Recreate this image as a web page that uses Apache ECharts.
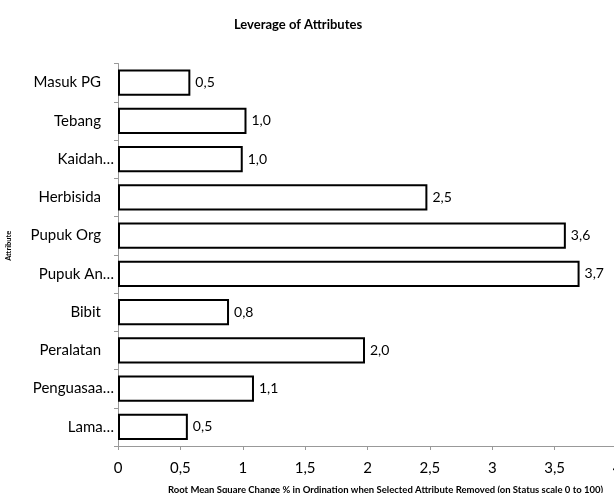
<!DOCTYPE html>
<html>
<head>
<meta charset="utf-8">
<script src="https://cdn.jsdelivr.net/npm/echarts@6/dist/echarts.min.js"></script>
<style>html,body{margin:0;padding:0;background:#fff}#c{width:614px;height:493px}</style>
</head>
<body>
<div id="c"></div>
<script>
// top-to-bottom order
var categories = ["Masuk PG", "Tebang", "Kaidah…", "Herbisida", "Pupuk Org", "Pupuk An…", "Bibit", "Peralatan", "Penguasaa…", "Lama…"];
var values = [0.58, 1.03, 1.0, 2.48, 3.59, 3.70, 0.89, 1.98, 1.09, 0.56];
var valueLabels = ["0,5", "1,0", "1,0", "2,5", "3,6", "3,7", "0,8", "2,0", "1,1", "0,5"];
var xTicks = [0, 0.5, 1, 1.5, 2, 2.5, 3, 3.5, 4];

var FONT = 'Lato';
var chart = echarts.init(document.getElementById('c'), null, {renderer: 'canvas'});
chart.setOption({
  animation: false,
  backgroundColor: '#fff',
  title: {
    text: 'Leverage of Attributes',
    left: 293, top: 13, textAlign: 'center',
    textStyle: {fontFamily: FONT, fontWeight: 'bold', fontSize: 13, color: '#000'}
  },
  grid: {left: 118, top: 63.5, bottom: 47, width: 499, containLabel: false, outerBoundsMode: 'none'},
  xAxis: {
    type: 'value', min: 0, max: 4, interval: 0.5,
    name: 'Root Mean Square Change % in Ordination when Selected Attribute Removed (on Status scale 0 to 100)',
    nameLocation: 'middle', nameGap: 39,
    nameTextStyle: {fontFamily: FONT, fontWeight: 'bold', fontSize: 9.5, color: '#000', padding: [0, 0, 0, 36]},
    axisLine: {show: true, lineStyle: {color: '#999', width: 1}},
    axisTick: {show: true, length: 4, lineStyle: {color: '#999'}},
    splitLine: {show: false},
    axisLabel: {
      fontFamily: FONT, fontSize: 15, color: '#000', margin: 15,
      formatter: function (v) { return String(v).replace('.', ','); }
    }
  },
  yAxis: {
    type: 'category', data: categories, inverse: true,
    name: 'Attribute', nameLocation: 'middle', nameGap: 105, nameRotate: 90,
    nameTextStyle: {fontFamily: FONT, fontWeight: 'bold', fontSize: 7.5, color: '#000', padding: [0, 0, 0, 18]},
    axisLine: {show: true, lineStyle: {color: '#999', width: 1}},
    axisTick: {show: true, length: 4, lineStyle: {color: '#999'}},
    axisLabel: {
      fontFamily: FONT, fontSize: 15, color: '#000', margin: 4,
      formatter: function (v) {
        return v.indexOf('…') >= 0 ? '{t|' + v + '}' : '{n|' + v + '}';
      },
      rich: {
        t: {fontFamily: FONT, fontSize: 15, color: '#000'},
        n: {fontFamily: FONT, fontSize: 15, color: '#000', padding: [0, 13, 0, 0]}
      }
    }
  },
  series: [{
    type: 'bar',
    data: values,
    barCategoryGap: '32%',
    itemStyle: {color: '#fff', borderColor: '#000', borderWidth: 2},
    label: {
      show: true, position: 'right', distance: 5,
      fontFamily: FONT, fontSize: 14, color: '#000',
      formatter: function (p) { return valueLabels[p.dataIndex]; }
    }
  }]
});
</script>
</body>
</html>
